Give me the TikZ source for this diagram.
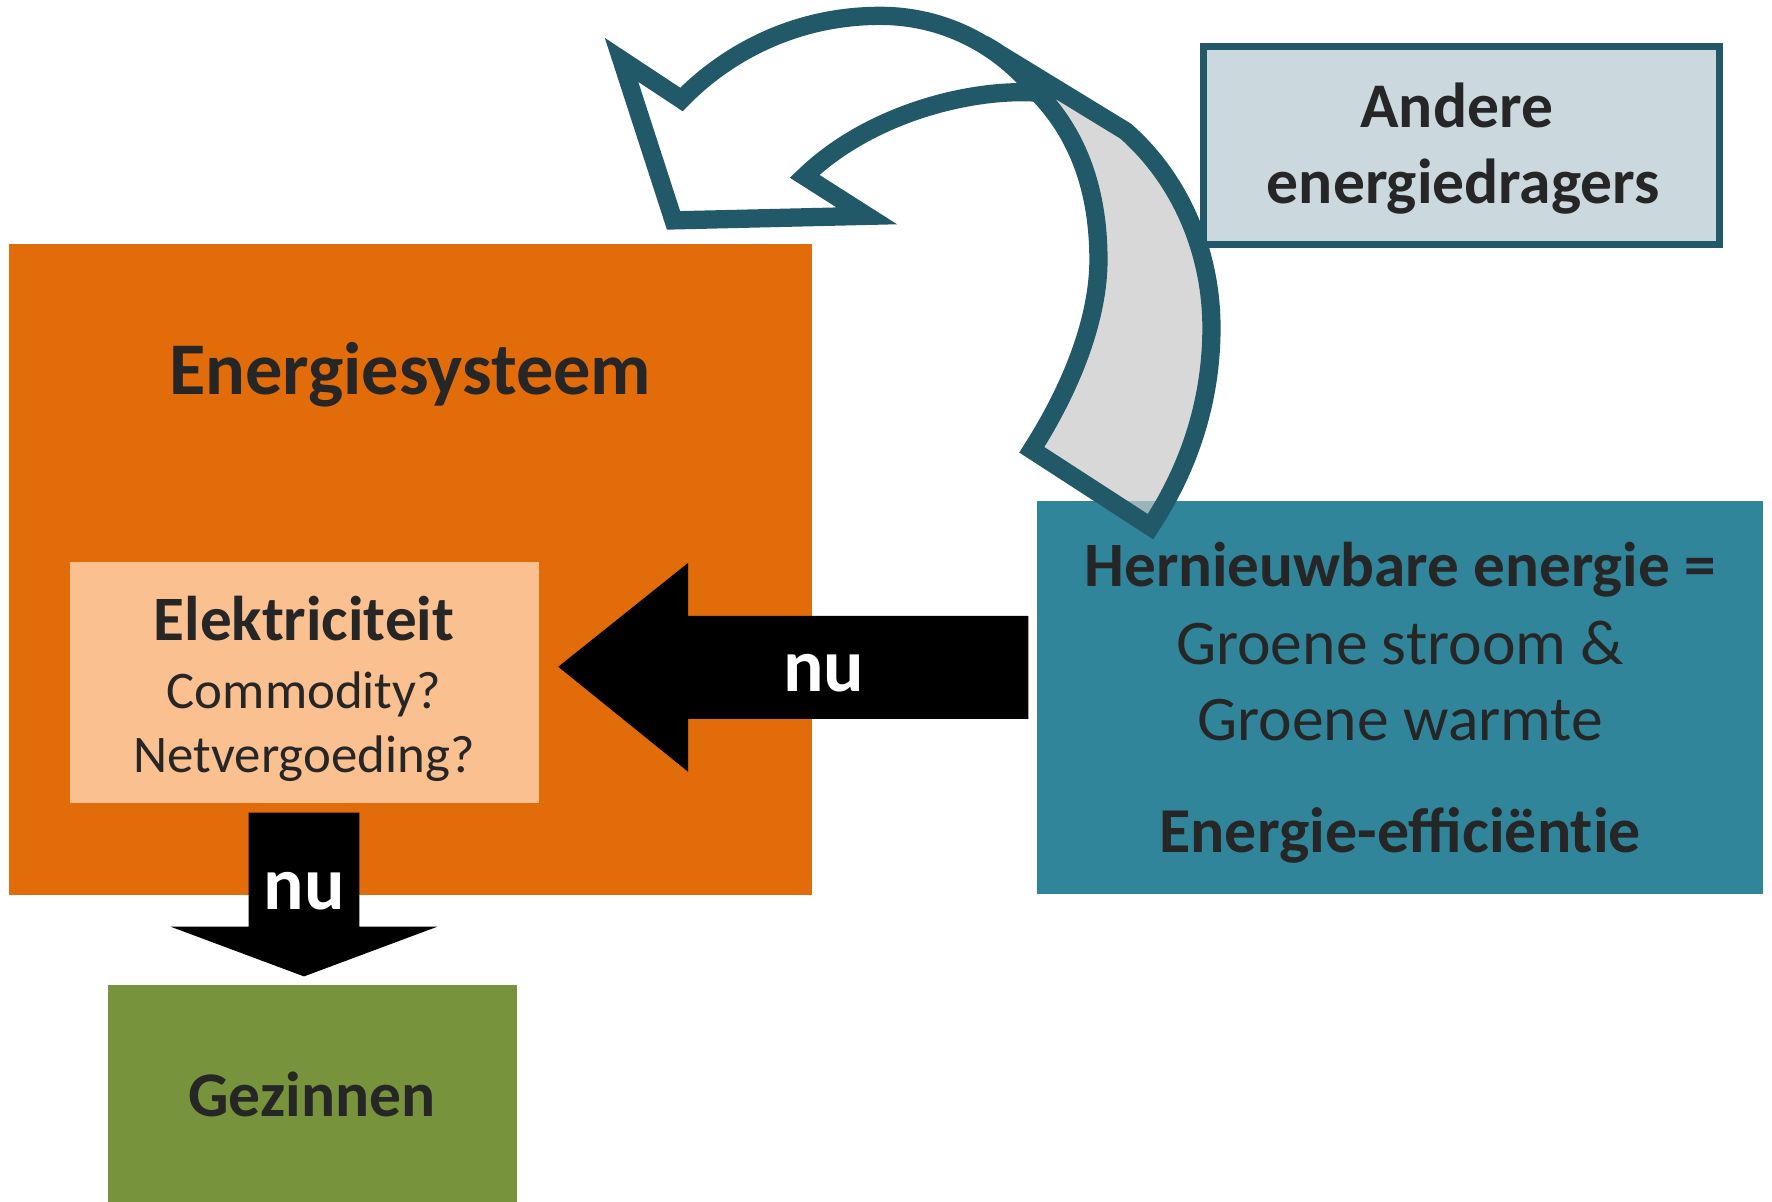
\documentclass[tikz,border=0pt]{standalone}
\usepackage{fontspec}
\setmainfont{Carlito}
\usetikzlibrary{positioning}
\definecolor{sysorange}{RGB}{227,108,10}
\definecolor{elekorange}{RGB}{250,192,144}
\definecolor{hernteal}{RGB}{49,133,155}
\definecolor{darkteal}{RGB}{33,89,104}
\definecolor{andereblue}{RGB}{203,217,222}
\definecolor{gezgreen}{RGB}{119,147,60}
\definecolor{backgray}{RGB}{200,200,200}
\definecolor{txtgray}{RGB}{38,38,38}
\newcommand{\fsz}[1]{\fontsize{#1}{1.2\dimexpr#1pt\relax}\selectfont}
\begin{document}
\begin{tikzpicture}[x=0.01cm, y=-0.01cm,
    box/.style={anchor=north west, inner sep=0pt, outer sep=0pt},
    lbl/.style={text=txtgray, inner sep=0pt, anchor=base},
    nulbl/.style={text=white, inner sep=0pt, anchor=base, font=\bfseries\fsz{19}},
    curvefront/.style={draw=darkteal, line width=4.6pt, line join=miter, fill=white},
    curveback/.style={draw=darkteal, line width=4.6pt, line join=miter,
      fill=backgray, fill opacity=0.7, draw opacity=1}]
  \useasboundingbox (0,0) rectangle (1568,1063);
  % boxes
  \node[box, fill=sysorange, minimum width=7.1cm, minimum height=5.76cm] (sys) at (8,216) {};
  \node[box, fill=elekorange, minimum width=4.15cm, minimum height=2.13cm] (elek) at (62,497) {};
  \node[box, fill=hernteal, minimum width=6.42cm, minimum height=3.48cm] (hern) at (918,443) {};
  \node[box, fill=gezgreen, minimum width=3.61cm, minimum height=1.95cm] (gez) at (96,872) {};
  \node[box, draw=darkteal, line width=1.85pt, fill=andereblue,
    minimum width=4.56cm, minimum height=1.75cm] (andere) at (1065,41) {};
  % texts
  \node[lbl, font=\bfseries\fsz{18.7}] (systxt) at (363,349) {Energiesysteem};
  \node[lbl, font=\bfseries\fsz{15.9}] (elektxt) at (269,567) {Elektriciteit};
  \node[lbl, font=\fsz{13.3}] (commtxt) at (269,627) {Commodity?};
  \node[lbl, font=\fsz{13.3}] (nettxt) at (269,684) {Netvergoeding?};
  \node[lbl, font=\bfseries\fsz{16}] (andtxt) at (1289,113) {Andere};
  \node[lbl, font=\bfseries\fsz{16}] (dragtxt) at (1295,180) {energiedragers};
  \node[lbl, font=\bfseries\fsz{15.9}] (herntxt) at (1239,519) {Hernieuwbare energie =};
  \node[lbl, font=\fsz{16}] (stroomtxt) at (1239,588) {Groene stroom \&};
  \node[lbl, font=\fsz{16}] (warmtetxt) at (1239,655) {Groene warmte};
  \node[lbl, font=\bfseries\fsz{16.1}] (efftxt) at (1239,754) {Energie-efficiënt\kern0pt{}ie};
  \node[lbl, font=\bfseries\fsz{16}] (geztxt) at (276,988) {Gezinnen};
  % fat arrows
  \coordinate (ltail) at (910,590);
  \coordinate (ltip) at (494,590);
  \fill (ltail) ++(0,-45) -- (609,545) -- (609,498) -- (ltip) -- (609,683)
    -- (609,636) -- (910,636) -- cycle;
  \node[nulbl] (nuleft) at (729,612) {nu};
  \coordinate (dtail) at (269,719);
  \coordinate (dtip) at (269,864);
  \fill (dtail) ++(-49,0) -- (318,719) -- (318,820) -- (387,820) -- (dtip)
    -- (151,820) -- (220,820) -- cycle;
  \node[nulbl] (nudown) at (269,805) {nu};
  % curved arrow
  \filldraw[curvefront] (550,53) -- (603,88)
    .. controls (640,50) and (700,14) .. (779,14)
    .. controls (835,14) and (885,40) .. (918,82)
    .. controls (860,78) and (770,100) .. (712,156)
    -- (767,191) -- (596,195) -- cycle;
  \filldraw[curveback] (870,39) -- (996,116)
    .. controls (1046,160) and (1072,225) .. (1072,290)
    .. controls (1072,350) and (1055,410) .. (1018,466)
    -- (913,398)
    .. controls (950,340) and (972,280) .. (972,230)
    .. controls (972,170) and (955,120) .. (918,82)
    .. controls (905,62) and (890,50) .. cycle;
\end{tikzpicture}
\end{document}
